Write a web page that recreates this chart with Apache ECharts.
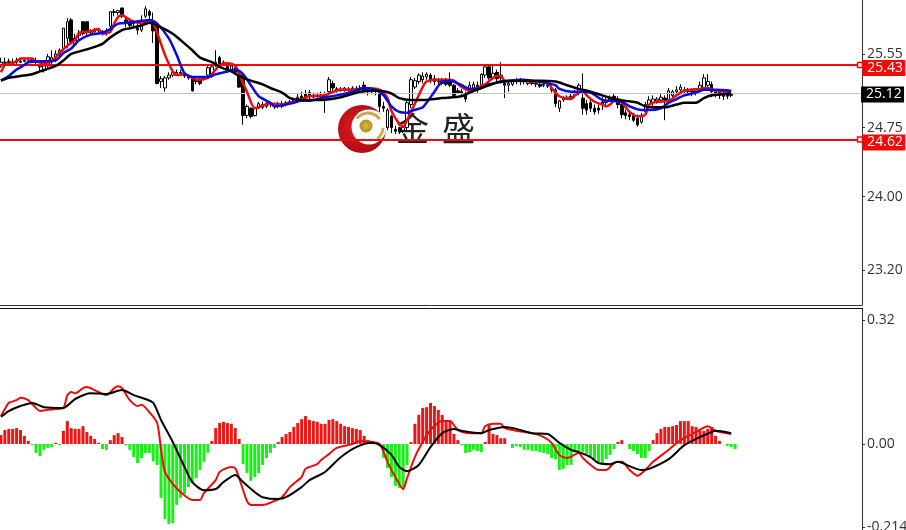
<!DOCTYPE html>
<html>
<head>
<meta charset="utf-8">
<style>html,body{margin:0;padding:0;background:#fff;overflow:hidden}#c{width:906px;height:530px}</style>
<script src="https://cdn.jsdelivr.net/npm/echarts@6/dist/echarts.min.js"></script>
</head>
<body>
<div id="c"></div>
<script>
// [open, close, low, high], one row per bar
var ohlc = [
[25.42,25.46,25.40,25.51],[25.45,25.46,25.42,25.51],[25.46,25.47,25.44,25.50],[25.46,25.46,25.43,25.50],[25.46,25.48,25.44,25.51],
[25.46,25.47,25.45,25.50],[25.47,25.48,25.46,25.51],[25.48,25.48,25.46,25.51],[25.47,25.48,25.45,25.51],[25.46,25.48,25.44,25.51],
[25.41,25.42,25.36,25.44],[25.38,25.42,25.35,25.46],[25.42,25.52,25.40,25.55],[25.46,25.51,25.44,25.59],[25.51,25.55,25.46,25.59],
[25.54,25.59,25.51,25.61],[25.61,25.83,25.59,25.83],[25.72,25.90,25.61,25.94],[25.92,25.68,25.65,25.94],[25.65,25.72,25.63,25.77],
[25.75,25.77,25.70,25.81],[25.90,25.77,25.75,25.90],[25.90,25.78,25.75,25.90],[25.78,25.80,25.75,25.82],[25.79,25.81,25.76,25.83],
[25.80,25.81,25.78,25.83],[25.78,25.79,25.75,25.81],[25.77,25.79,25.75,25.83],[25.85,26.01,25.83,26.01],[26.00,26.01,25.96,26.04],
[26.00,26.02,25.97,26.03],[26.05,25.96,25.94,26.05],[25.92,25.90,25.84,25.94],[25.90,25.86,25.83,25.94],[25.88,25.90,25.85,25.92],
[25.83,25.81,25.76,25.88],[25.81,25.90,25.79,25.97],[25.96,26.04,25.94,26.07],[26.01,25.97,25.93,26.03],[25.90,25.80,25.67,26.00],
[25.84,25.23,25.22,25.88],[25.25,25.28,25.18,25.31],[25.18,25.29,25.14,25.31],[25.29,25.32,25.27,25.35],[25.32,25.35,25.30,25.38],
[25.33,25.35,25.31,25.38],[25.34,25.35,25.32,25.38],[25.33,25.31,25.29,25.35],[25.30,25.29,25.27,25.32],[25.29,25.15,25.14,25.31],
[25.27,25.25,25.22,25.30],[25.27,25.23,25.21,25.29],[25.28,25.30,25.26,25.31],[25.32,25.40,25.29,25.42],[25.31,25.41,25.29,25.44],
[25.43,25.46,25.41,25.59],[25.51,25.44,25.42,25.53],[25.44,25.46,25.42,25.48],[25.42,25.38,25.35,25.45],[25.38,25.42,25.35,25.44],
[25.40,25.35,25.33,25.44],[25.33,25.19,25.18,25.38],[25.32,24.88,24.78,25.35],[24.88,24.98,24.85,25.00],[24.96,24.87,24.85,24.97],
[24.88,24.96,24.87,24.97],[24.96,25.01,24.95,25.03],[25.00,24.97,24.95,25.03],[24.98,25.01,24.96,25.03],[25.00,25.01,24.97,25.02],
[24.98,25.00,24.95,25.02],[25.00,24.98,24.96,25.03],[24.98,25.01,24.96,25.04],[25.01,25.02,24.98,25.04],[25.02,25.03,25.00,25.05],
[25.03,25.05,25.02,25.07],[25.06,25.08,25.05,25.12],[25.09,25.07,25.03,25.14],[25.12,25.08,25.05,25.16],[25.13,25.09,25.06,25.16],
[25.08,25.10,25.07,25.13],[25.09,25.10,25.07,25.13],[25.10,25.08,25.06,25.14],[25.10,25.08,24.91,25.14],[25.14,25.27,25.13,25.30],
[25.23,25.18,25.14,25.26],[25.17,25.16,25.13,25.19],[25.16,25.17,25.14,25.19],[25.16,25.18,25.14,25.19],[25.17,25.16,25.14,25.19],
[25.17,25.18,25.15,25.20],[25.18,25.17,25.15,25.20],[25.17,25.18,25.15,25.21],[25.21,25.14,25.13,25.25],[25.14,25.16,25.10,25.18],
[25.15,25.14,25.12,25.17],[25.14,25.15,25.10,25.17],[25.13,24.98,24.92,25.14],[24.98,24.96,24.92,25.03],[24.75,24.94,24.72,24.96],
[24.87,24.75,24.69,24.89],[24.73,24.71,24.68,24.77],[24.75,24.70,24.68,24.76],[24.72,24.75,24.69,24.78],[24.75,25.02,24.71,25.05],
[25.00,25.27,24.96,25.30],[25.19,25.26,25.17,25.29],[25.25,25.32,25.22,25.34],[25.27,25.31,25.23,25.35],[25.30,25.33,25.27,25.35],
[25.32,25.27,25.23,25.34],[25.28,25.25,25.21,25.32],[25.25,25.27,25.22,25.29],[25.27,25.23,25.21,25.29],[25.25,25.22,25.20,25.29],
[25.27,25.21,25.19,25.35],[25.21,25.10,25.09,25.22],[25.15,25.13,25.12,25.18],[25.14,25.12,25.09,25.17],[25.12,25.06,25.03,25.14],
[25.14,25.21,25.12,25.25],[25.18,25.22,25.14,25.25],[25.21,25.16,25.13,25.25],[25.21,25.33,25.19,25.34],[25.32,25.41,25.29,25.43],
[25.41,25.29,25.27,25.42],[25.29,25.34,25.27,25.42],[25.35,25.28,25.25,25.38],[25.29,25.32,25.23,25.46],[25.23,25.21,25.07,25.27],
[25.21,25.23,25.14,25.25],[25.22,25.25,25.20,25.27],[25.25,25.27,25.22,25.29],[25.27,25.25,25.21,25.29],[25.25,25.26,25.22,25.28],
[25.23,25.26,25.21,25.28],[25.25,25.23,25.21,25.27],[25.22,25.23,25.19,25.26],[25.22,25.20,25.18,25.25],[25.21,25.22,25.19,25.25],
[25.20,25.21,25.18,25.23],[25.18,25.16,25.13,25.20],[25.16,25.01,24.97,25.18],[24.96,25.04,24.92,25.05],[25.05,25.07,25.03,25.09],
[25.06,25.08,25.05,25.10],[25.08,25.09,25.06,25.12],[25.10,25.14,25.07,25.16],[25.13,25.21,25.10,25.23],[25.07,24.96,24.89,25.34],
[25.01,24.94,24.89,25.05],[25.02,24.96,24.92,25.05],[24.96,24.92,24.89,25.00],[24.96,24.94,24.90,25.00],[25.03,25.00,24.94,25.08],
[25.02,25.04,24.98,25.09],[25.05,25.08,25.03,25.10],[25.09,25.06,25.04,25.12],[25.06,25.00,24.96,25.09],[25.00,24.89,24.85,25.01],
[24.91,24.88,24.84,24.94],[24.89,24.87,24.83,24.92],[24.88,24.83,24.81,24.91],[24.85,24.78,24.76,24.89],[24.81,24.88,24.79,24.91],
[24.92,25.00,24.90,25.03],[25.00,25.05,24.97,25.09],[25.02,25.06,24.98,25.10],[25.04,25.06,25.01,25.08],[25.05,25.08,25.02,25.12],
[25.07,25.05,24.83,25.10],[25.05,25.15,25.02,25.18],[25.10,25.14,25.07,25.16],[25.14,25.16,25.10,25.20],[25.16,25.19,25.12,25.22],
[25.16,25.15,25.10,25.19],[25.14,25.16,25.10,25.18],[25.15,25.14,25.09,25.17],[25.14,25.16,25.10,25.18],[25.16,25.21,25.13,25.25],
[25.18,25.29,25.16,25.33],[25.21,25.25,25.18,25.33],[25.22,25.14,25.08,25.25],[25.14,25.12,25.08,25.16],[25.13,25.10,25.06,25.16],
[25.12,25.09,25.05,25.15],[25.12,25.09,25.06,25.14],[25.12,25.10,25.08,25.13]
];

// moving averages: [bar, price]
var maFast = [[0,25.35],[1,25.43],[2,25.44],[4,25.47],[5,25.50],[8,25.50],[9,25.47],[11,25.45],[13,25.47],[15,25.56],[17,25.64],[19,25.70],[20,25.78],[22,25.79],[23,25.80],[25,25.82],[26,25.77],[28,25.79],[29,25.88],[30,25.95],[31,25.97],[33,25.92],[35,25.89],[37,25.90],[38,25.92],[39,25.88],[40,25.78],[42,25.54],[44,25.36],[45,25.32],[47,25.33],[49,25.29],[50,25.27],[53,25.29],[55,25.38],[56,25.43],[58,25.45],[60,25.42],[61,25.33],[63,25.14],[65,24.96],[67,24.99],[69,25.01],[72,25.00],[74,25.02],[77,25.06],[79,25.09],[83,25.10],[84,25.12],[87,25.16],[90,25.16],[92,25.17],[93,25.18],[97,25.16],[99,25.07],[100,24.93],[102,24.79],[103,24.76],[104,24.83],[106,25.01],[108,25.19],[109,25.25],[111,25.27],[114,25.27],[116,25.26],[118,25.19],[120,25.15],[122,25.18],[124,25.22],[127,25.31],[128,25.31],[129,25.26],[132,25.26],[136,25.25],[140,25.25],[141,25.18],[143,25.09],[146,25.06],[147,25.10],[149,25.15],[150,25.10],[152,25.03],[154,25.00],[155,24.98],[156,25.00],[157,25.04],[159,25.02],[160,24.97],[161,24.92],[163,24.87],[165,24.89],[166,25.00],[168,25.03],[171,25.04],[173,25.10],[175,25.15],[179,25.17],[181,25.18],[183,25.15],[187,25.14]];
var maMid = [[0,25.26],[2,25.31],[4,25.38],[6,25.43],[7,25.46],[10,25.47],[14,25.48],[16,25.56],[18,25.61],[20,25.70],[23,25.76],[26,25.78],[28,25.82],[30,25.88],[33,25.89],[36,25.91],[38,25.92],[40,25.88],[43,25.72],[45,25.54],[47,25.34],[49,25.30],[53,25.30],[55,25.33],[58,25.36],[60,25.38],[62,25.33],[64,25.21],[66,25.09],[69,25.02],[70,24.98],[73,25.00],[75,25.02],[77,25.04],[79,25.04],[82,25.07],[86,25.10],[90,25.14],[93,25.18],[96,25.16],[98,25.10],[100,24.98],[102,24.92],[104,24.91],[105,24.93],[108,24.97],[109,25.02],[111,25.14],[113,25.25],[115,25.26],[118,25.21],[120,25.17],[123,25.18],[125,25.22],[129,25.25],[133,25.27],[136,25.26],[140,25.23],[142,25.21],[143,25.17],[146,25.14],[148,25.14],[151,25.13],[154,25.05],[156,25.04],[159,25.03],[161,24.98],[164,24.94],[166,24.94],[169,24.96],[171,25.02],[173,25.06],[175,25.10],[178,25.13],[180,25.16],[183,25.16],[187,25.15]];
var maSlow = [[0,25.26],[2,25.29],[5,25.31],[8,25.33],[10,25.36],[14,25.42],[16,25.48],[18,25.55],[22,25.60],[26,25.66],[28,25.73],[31,25.81],[33,25.83],[36,25.86],[38,25.89],[41,25.84],[44,25.77],[46,25.70],[49,25.59],[51,25.51],[54,25.46],[56,25.41],[59,25.36],[61,25.31],[64,25.26],[67,25.22],[69,25.18],[72,25.13],[74,25.07],[77,25.05],[82,25.05],[87,25.08],[92,25.14],[95,25.15],[97,25.15],[100,25.12],[102,25.07],[105,25.05],[108,25.05],[113,25.07],[118,25.09],[120,25.13],[123,25.18],[125,25.21],[128,25.25],[133,25.26],[138,25.26],[142,25.25],[145,25.21],[148,25.17],[151,25.14],[154,25.10],[157,25.06],[160,25.04],[163,25.02],[165,24.98],[168,24.97],[170,24.97],[173,25.00],[175,25.02],[178,25.02],[180,25.07],[182,25.10],[187,25.12]];

// MACD pane
var macdHist = [
.023,.036,.039,.039,.041,.036,.021,.008,-.003,-.023,-.031,-.015,-.010,-.008,.003,-.003,.034,.059,.041,.039,
.039,.046,.031,.021,.013,.003,-.013,-.015,.010,.023,.028,.018,-.003,-.015,-.034,-.049,-.036,-.023,-.023,-.044,
-.054,-.139,-.194,-.206,-.204,-.157,-.139,-.129,-.111,-.101,-.088,-.067,-.046,-.023,.008,.041,.054,.057,.054,.052,
.041,.013,-.052,-.075,-.095,-.085,-.075,-.054,-.036,-.023,-.010,.005,.018,.026,.031,.044,.054,
.064,.072,.062,.059,.057,.052,.052,.062,.064,.059,.052,.046,.044,.041,.039,.036,.021,.010,.008,.003,
-.003,-.036,-.062,-.085,-.108,-.113,-.113,-.054,.005,.052,.075,.093,.095,.106,.098,.088,.075,.062,.059,.026,
.010,-.003,-.023,-.021,-.015,-.018,-.021,.005,.049,.026,.023,.015,.015,0,-.010,-.005,-.008,-.015,-.015,-.018,
-.018,-.021,-.023,-.026,-.036,-.039,-.067,-.064,-.054,-.054,-.021,-.018,-.021,-.026,-.031,-.039,-.046,-.052,
-.039,-.028,-.013,.005,.010,0,-.013,-.018,-.026,-.036,-.036,-.018,.010,.028,.039,.044,.044,.046,.049,.059,
.059,.059,.046,.044,.034,.034,.039,.044,.021,.008,0,-.005,-.008,-.013
];
var macdDif = [[0,.072],[1,.090],[2,.106],[4,.113],[5,.119],[7,.113],[8,.103],[10,.085],[12,.088],[14,.090],[16,.093],[17,.126],[18,.134],[19,.131],[21,.144],[22,.147],[24,.139],[26,.129],[27,.126],[29,.144],[30,.149],[31,.144],[33,.113],[35,.098],[36,.101],[38,.082],[40,.054],[41,-.015],[42,-.072],[44,-.103],[46,-.124],[49,-.144],[51,-.144],[52,-.126],[55,-.093],[56,-.072],[59,-.059],[60,-.062],[61,-.088],[63,-.147],[64,-.157],[67,-.157],[70,-.147],[72,-.137],[74,-.111],[77,-.085],[78,-.064],[81,-.052],[82,-.041],[84,-.026],[86,-.010],[90,0],[92,.008],[95,.005],[97,0],[99,-.046],[101,-.085],[103,-.116],[104,-.088],[106,-.034],[108,.005],[110,.036],[113,.059],[115,.059],[117,.036],[120,.028],[123,.028],[124,.046],[126,.052],[128,.052],[129,.041],[132,.034],[136,.028],[139,.018],[141,.003],[143,-.028],[145,-.036],[148,-.023],[149,-.036],[152,-.062],[153,-.067],[155,-.067],[157,-.049],[159,-.046],[161,-.067],[163,-.082],[165,-.067],[167,-.046],[171,-.015],[174,.010],[178,.031],[181,.046],[183,.034],[187,.026]];
var macdDea = [[0,.070],[2,.085],[5,.098],[8,.106],[11,.095],[16,.093],[19,.116],[23,.131],[27,.129],[31,.139],[34,.126],[37,.116],[39,.106],[41,.062],[44,.005],[47,-.059],[49,-.098],[52,-.119],[55,-.116],[57,-.098],[60,-.080],[62,-.098],[65,-.124],[67,-.137],[71,-.142],[73,-.137],[77,-.111],[79,-.093],[83,-.072],[87,-.034],[91,-.008],[95,.003],[97,-.003],[100,-.028],[102,-.059],[104,-.070],[107,-.054],[110,-.008],[113,.028],[116,.039],[118,.034],[123,.028],[125,.036],[129,.044],[132,.039],[136,.028],[140,.026],[143,.003],[146,-.015],[148,-.021],[151,-.034],[153,-.049],[156,-.052],[158,-.046],[161,-.057],[164,-.067],[166,-.064],[171,-.039],[175,-.003],[178,.013],[182,.031],[183,.034],[187,.028]];

// axis readings
var priceTicks = [25.55, 24.75, 24.00, 23.20];
var macdTicks = [0.32, 0.00, -0.214];
var tickText = {'0.32':'0.32','0':'0.00','-0.214':'-0.214'};
var resistance = 25.43, support = 24.62, lastPrice = 25.12;

var slotCount = 221;
var slots = [];
for (var n = 0; n < slotCount; n++) slots.push(String(n));

var FONT = '"Open Sans", sans-serif';
var RED = '#f00a0a';
var AXIS = '#333333';

function lineSeries(name, data, color, width, ax) {
  return { name: name, type: 'line', data: data, xAxisIndex: ax, yAxisIndex: ax,
    showSymbol: false, symbol: 'none', smooth: 0.25, animation: false, silent: true, z: 5,
    lineStyle: { color: color, width: width } };
}
function tagLabel(v, bg, dx, dy) {
  return { show: true, position: 'right', distance: 0, offset: [dx, dy], formatter: v.toFixed(2), opacity: 1,
    color: '#fff', backgroundColor: bg, fontFamily: FONT, fontSize: 14, width: 38, height: 16, lineHeight: 17, padding: [0, 0, 0, 5] };
}
var hollow = { color: '#fff', borderColor: RED, borderWidth: 1.5, opacity: 1 };

var chart = echarts.init(document.getElementById('c'), null, { renderer: 'canvas' });
chart.setOption({
  animation: false,
  backgroundColor: '#fff',
  grid: [
    { left: -1, top: 0, width: 863, height: 305, outerBoundsMode: 'none' },
    { left: -1, top: 308, width: 863, height: 222, outerBoundsMode: 'none' }
  ],
  xAxis: [
    { type: 'category', gridIndex: 0, data: slots, position: 'bottom',
      axisLine: { show: true, lineStyle: { color: AXIS, width: 1 } }, axisTick: { show: false }, axisLabel: { show: false }, splitLine: { show: false } },
    { type: 'category', gridIndex: 1, data: slots, position: 'top',
      axisLine: { show: true, onZero: false, lineStyle: { color: '#111', width: 1 } }, axisTick: { show: false }, axisLabel: { show: false }, splitLine: { show: false } }
  ],
  yAxis: [
    { type: 'value', gridIndex: 0, position: 'right', min: 22.821, max: 26.1365, scale: true,
      splitLine: { show: false },
      axisLine: { show: true, lineStyle: { color: AXIS } },
      axisTick: { show: true, length: 3, inside: false, customValues: priceTicks, lineStyle: { color: AXIS } },
      axisLabel: { show: true, margin: 5, color: '#333', fontFamily: FONT, fontSize: 14, padding: [3, 0, 0, 0], customValues: priceTicks,
        formatter: function (v) { return v.toFixed(2); } } },
    { type: 'value', gridIndex: 1, position: 'right', min: -0.2216, max: 0.3505,
      splitLine: { show: false },
      axisLine: { show: true, onZero: false, lineStyle: { color: AXIS } },
      axisTick: { show: true, length: 3, customValues: macdTicks, lineStyle: { color: AXIS } },
      axisLabel: { show: true, margin: 5, color: '#333', fontFamily: FONT, fontSize: 14, customValues: macdTicks,
        formatter: function (v) { return tickText[String(v)] || v.toFixed(2); } } }
  ],
  series: [
    { name: 'Price', type: 'candlestick', xAxisIndex: 0, yAxisIndex: 0, data: ohlc, barWidth: 3, silent: true, z: 3,
      itemStyle: { color: '#ffffff', color0: '#000000', borderColor: '#000000', borderColor0: '#000000', borderWidth: 1 },
      markLine: { silent: true, symbol: 'none', animation: false, label: { show: false },
        data: [
          { yAxis: lastPrice, lineStyle: { color: '#c4c4c4', width: 1, type: 'solid' } },
          { yAxis: resistance, lineStyle: { color: RED, width: 2, type: 'solid' } },
          { yAxis: support, lineStyle: { color: RED, width: 2, type: 'solid' } }
        ] } },
    lineSeries('MA fast', maFast, '#f00a0a', 2.5, 0),
    lineSeries('MA mid', maMid, '#0a0ae6', 2.5, 0),
    lineSeries('MA slow', maSlow, '#000000', 2.5, 0),
    { name: 'Levels', type: 'scatter', xAxisIndex: 0, yAxisIndex: 0, symbol: 'rect', symbolSize: 5, silent: true, z: 8, clip: false,
      itemStyle: { opacity: 1 },
      data: [
        { value: [slotCount - 1, lastPrice], symbolSize: 0, label: tagLabel(lastPrice, '#000', 1, 1) },
        { value: [slotCount - 1, resistance], itemStyle: hollow, label: tagLabel(resistance, RED, -1, 3) },
        { value: [slotCount - 1, support], itemStyle: hollow, label: tagLabel(support, RED, -1, 3) }
      ] },
    { name: 'MACD', type: 'bar', xAxisIndex: 1, yAxisIndex: 1, data: macdHist, barWidth: 3, silent: true, z: 2,
      itemStyle: { color: function (p) { return p.value >= 0 ? '#f01515' : '#18f018'; } } },
    lineSeries('DIF', macdDif, '#f00a0a', 2, 1),
    lineSeries('DEA', macdDea, '#000000', 2, 1)
  ],
  graphic: [
    { type: 'group', z: 50, silent: true, children: [
      { type: 'circle', shape: { cx: 362, cy: 129, r: 24 },
        style: { fill: { type: 'radial', x: 0.4, y: 0.45, r: 0.6, colorStops: [{ offset: 0, color: '#e01a22' }, { offset: 1, color: '#a80c12' }] } } },
      { type: 'circle', shape: { cx: 369, cy: 127, r: 17.5 }, style: { fill: '#fff' } },
      { type: 'arc', shape: { cx: 368, cy: 127, r: 14, startAngle: -2.5, endAngle: -0.6 }, style: { fill: 'none', stroke: '#c9a94f', lineWidth: 3 } },
      { type: 'arc', shape: { cx: 368, cy: 127, r: 15, startAngle: 0.05, endAngle: 0.9 }, style: { fill: 'none', stroke: '#cfae55', lineWidth: 3 } },
      { type: 'circle', shape: { cx: 366, cy: 126, r: 6.5 },
        style: { fill: { type: 'radial', x: 0.5, y: 0.5, r: 0.6, colorStops: [{ offset: 0, color: '#d8bd3a' }, { offset: 1, color: '#a9881e' }] } } },
      { type: 'text', x: 396, y: 112, style: { text: '金', fill: '#222', font: '33px "Noto Sans CJK SC", sans-serif' } },
      { type: 'text', x: 442, y: 112, style: { text: '盛', fill: '#222', font: '33px "Noto Sans CJK SC", sans-serif' } }
    ] }
  ]
});
</script>
</body>
</html>
